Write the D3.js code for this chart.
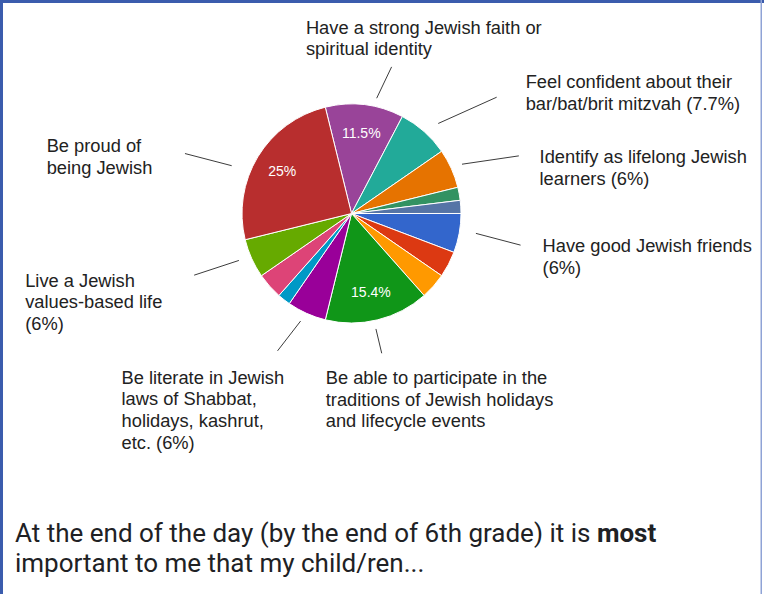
<!DOCTYPE html>
<html>
<head>
<meta charset="utf-8">
<script src="https://cdn.jsdelivr.net/npm/d3@7"></script>
<style>
  html, body { margin: 0; padding: 0; background: #fff; }
  svg { display: block; }
</style>
</head>
<body>
<svg id="chart" width="764" height="594"></svg>
<script>
// ---------- DATA ----------
const categories = [
  "Have a strong Jewish faith or spiritual identity",
  "Feel confident about their bar/bat/brit mitzvah",
  "Identify as lifelong Jewish learners",
  "Other (a)",
  "Other (b)",
  "Have good Jewish friends",
  "Other (c)",
  "Other (d)",
  "Be able to participate in the traditions of Jewish holidays and lifecycle events",
  "Be literate in Jewish laws of Shabbat, holidays, kashrut, etc.",
  "Other (e)",
  "Other (f)",
  "Live a Jewish values-based life",
  "Be proud of being Jewish"
];
const responses = [6, 4, 3, 1, 1, 3, 2, 2, 8, 3, 1, 2, 3, 13];
const sliceColors = ["#994499", "#22aa99", "#e67300", "#329262", "#5574a6", "#3366cc",
  "#dc3912", "#ff9900", "#109618", "#990099", "#0099c6", "#dd4477", "#66aa00", "#b82e2e"];

// outside label text (as shown on the chart), keyed by slice index
const labelIndex = [0, 1, 2, 5, 8, 9, 12, 13];
const labelLines = [
  ["Have a strong Jewish faith or", "spiritual identity"],
  ["Feel confident about their", "bar/bat/brit mitzvah (7.7%)"],
  ["Identify as lifelong Jewish", "learners (6%)"],
  ["Have good Jewish friends", "(6%)"],
  ["Be able to participate in the", "traditions of Jewish holidays", "and lifecycle events"],
  ["Be literate in Jewish", "laws of Shabbat,", "holidays, kashrut,", "etc. (6%)"],
  ["Live a Jewish", "values-based life", "(6%)"],
  ["Be proud of", "being Jewish"]
];
const titleLines = [
  [{t: "At the end of the day (by the end of 6th grade) it is ", b: false}, {t: "most", b: true}],
  [{t: "important to me that my child/ren...", b: false}]
];

// ---------- LAYOUT ----------
const W = 764, H = 594;
const cx = 351.5, cy = 213.5, R = 109.5;
const rotationDeg = -13.85;
// leader layout: start angle offset from slice middle (deg), start radius,
// end polar (deg, radius), text offset from line end
const leaderLayout = [
  {da: 5.4,  r0: 118, ea: 15.3,   r1: 152, dx: -85.7, dy: -33.4},
  {da: 2.4,  r0: 125, ea: 51.3,   r1: 186, dx: 29,    dy: -9},
  {da: 0.2,  r0: 121, ea: 71,     r1: 177, dx: 20.7,  dy: 7.6},
  {da: -1.3, r0: 126, ea: 100.6,  r1: 172, dx: 22,    dy: 7.3},
  {da: 1.9,  r0: 118, ea: 167.8,  r1: 143, dx: -56,   dy: 30.7},
  {da: 1.1,  r0: 119, ea: 208.3,  r1: 156, dx: -156,  dy: 33},
  {da: 1.6,  r0: 122, ea: -111.4, r1: 169, dx: -169,  dy: 11.7},
  {da: -9.4, r0: 129, ea: -70.2,  r1: 177, dx: -138.3,dy: -1.6}
];
const labelFont = "Arial, 'Liberation Sans', sans-serif";
const labelSize = 18.3, lineH = 21.6;

const svg = d3.select("#chart");

// frame
svg.append("rect").attr("x", 0).attr("y", 0).attr("width", W).attr("height", H).attr("fill", "#fff");
svg.append("rect").attr("x", 0).attr("y", 0).attr("width", W).attr("height", 3).attr("fill", "#3b5cad");
svg.append("rect").attr("x", 0).attr("y", 0).attr("width", 3).attr("height", H).attr("fill", "#3b5cad");
svg.append("rect").attr("x", 760.5).attr("y", 0).attr("width", 1.5).attr("height", H).attr("fill", "#8fa3d6");

const total = d3.sum(responses);
const rot = rotationDeg * Math.PI / 180;
const pie = d3.pie().sort(null).value(d => d)
  .startAngle(rot).endAngle(rot + 2 * Math.PI);
const arcs = pie(responses);
const arc = d3.arc().innerRadius(0).outerRadius(R);
const labelArc = d3.arc().innerRadius(R * 0.74).outerRadius(R * 0.74);

const g = svg.append("g").attr("transform", `translate(${cx},${cy})`);
g.selectAll("path.slice").data(arcs).join("path")
  .attr("class", "slice")
  .attr("d", arc)
  .attr("fill", (d, i) => sliceColors[i])
  .attr("stroke", "#fff").attr("stroke-width", 1);

const fmt = v => {
  const s = d3.format(".1f")(v);
  return (s.endsWith(".0") ? s.slice(0, -2) : s) + "%";
};
g.selectAll("text.pct").data(arcs.filter(d => d.value / total > 0.1)).join("text")
  .attr("class", "pct")
  .attr("transform", d => `translate(${labelArc.centroid(d)})`)
  .attr("text-anchor", "middle").attr("dy", "0.35em")
  .attr("font-family", labelFont).attr("font-size", 14).attr("fill", "#fff")
  .text(d => fmt(d.value / total * 100));

// outside labels and leader lines
const polar = (deg, r) => {
  const a = deg * Math.PI / 180;
  return [r * Math.sin(a), -r * Math.cos(a)];
};
labelIndex.forEach((si, k) => {
  const d = arcs[si];
  const L = leaderLayout[k];
  const mid = ((d.startAngle + d.endAngle) / 2) * 180 / Math.PI;
  const p0 = polar(mid + L.da, L.r0);
  const p1 = polar(L.ea, L.r1);
  g.append("line")
    .attr("x1", p0[0]).attr("y1", p0[1]).attr("x2", p1[0]).attr("y2", p1[1])
    .attr("stroke", "#3c3c3c").attr("stroke-width", 1);
  const t = g.append("text")
    .attr("font-family", labelFont).attr("font-size", labelSize).attr("fill", "#222");
  labelLines[k].forEach((ln, j) => {
    t.append("tspan").attr("x", p1[0] + L.dx).attr("y", p1[1] + L.dy + j * lineH).text(ln);
  });
});

// title
const titleFont = "Roboto, 'Noto Sans', Arial, sans-serif";
titleLines.forEach((parts, j) => {
  const t = svg.append("text")
    .attr("x", 15).attr("y", 542.3 + j * 29.6)
    .attr("font-family", titleFont).attr("font-size", 26).attr("fill", "#202124");
  parts.forEach(p => {
    t.append("tspan").attr("font-weight", p.b ? 700 : 400).text(p.t);
  });
});
</script>
</body>
</html>
